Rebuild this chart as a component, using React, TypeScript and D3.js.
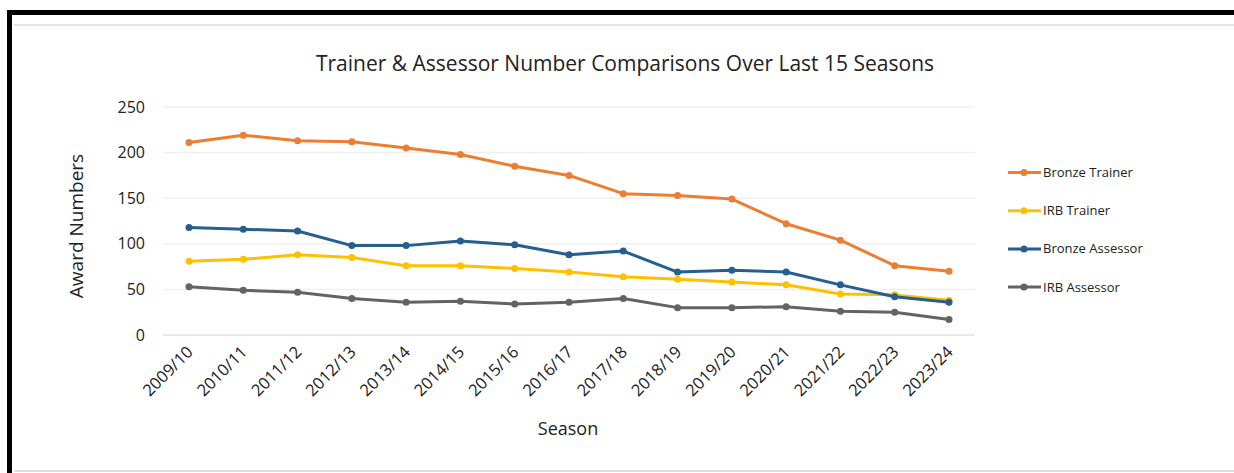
import React from "react";
import * as d3 from "d3";

const seasons = ["2009/10","2010/11","2011/12","2012/13","2013/14","2014/15","2015/16","2016/17","2017/18","2018/19","2019/20","2020/21","2021/22","2022/23","2023/24"];
const bronzeTrainer = [211,219,213,212,205,198,185,175,155,153,149,122,104,76,70];
const irbTrainer = [81,83,88,85,76,76,73,69,64,61,58,55,45,44,38];
const bronzeAssessor = [118,116,114,98,98,103,99,88,92,69,71,69,55,42,36];
const irbAssessor = [53,49,47,40,36,37,34,36,40,30,30,31,26,25,17];
const yTicks = [0,50,100,150,200,250];

const seriesList = [
  { name: "Bronze Trainer", values: bronzeTrainer, color: "#ED7D31" },
  { name: "IRB Trainer", values: irbTrainer, color: "#FFC000" },
  { name: "Bronze Assessor", values: bronzeAssessor, color: "#255E91" },
  { name: "IRB Assessor", values: irbAssessor, color: "#636363" },
];

const W = 1234, H = 473;
const FONT = "'Open Sans', Lato, sans-serif";

export default function App() {
  const x = d3.scalePoint<string>().domain(seasons).range([189, 949]);
  const y = d3.scaleLinear().domain([0, 250]).range([335, 107]);
  const line = d3.line<number>().x((_, i) => x(seasons[i]) as number).y((v) => y(v));
  const drawOrder = [3, 1, 2, 0];

  return (
    <svg width={W} height={H} style={{ position: "absolute", left: 0, top: 0, background: "#fff" }}>
      <rect x={0} y={0} width={W} height={H} fill="#fff" />
      {/* inner faint frame */}
      <line x1={14} x2={W} y1={25} y2={25} stroke="#e4e4e4" strokeWidth={2} />
      <line x1={14} x2={W} y1={471} y2={471} stroke="#dedede" strokeWidth={2} />
      {/* black border */}
      <line x1={7} x2={W} y1={12.5} y2={12.5} stroke="#000" strokeWidth={5} />
      <line x1={9.5} x2={9.5} y1={10} y2={H} stroke="#000" strokeWidth={5} />

      <text x={625} y={71} textAnchor="middle" fontFamily={FONT} fontSize={21} fill="#222">
        Trainer &amp; Assessor Number Comparisons Over Last 15 Seasons
      </text>

      {/* gridlines */}
      {yTicks.map((t) => (
        <line key={t} x1={163} x2={975} y1={y(t)} y2={y(t)} stroke={t === 0 ? "#e2e2e2" : "#f0f0f0"} strokeWidth={1.5} />
      ))}
      {yTicks.map((t) => (
        <text key={"l" + t} x={145} y={y(t)} dy="0.35em" textAnchor="end" fontFamily={FONT} fontSize={16} fill="#222">
          {t}
        </text>
      ))}
      <text transform={`translate(83,${226}) rotate(-90)`} textAnchor="middle" fontFamily={FONT} fontSize={19} fill="#222">
        Award Numbers
      </text>

      {seasons.map((s) => (
        <text key={s} transform={`translate(${(x(s) as number) + 5},${353}) rotate(-45)`} textAnchor="end" fontFamily={FONT} fontSize={16.5} fill="#222">
          {s}
        </text>
      ))}
      <text x={568} y={435} textAnchor="middle" fontFamily={FONT} fontSize={18} fill="#222">
        Season
      </text>

      {drawOrder.map((k) => {
        const s = seriesList[k];
        return (
          <g key={s.name}>
            <path d={line(s.values) || ""} fill="none" stroke={s.color} strokeWidth={3} strokeLinejoin="round" />
            {s.values.map((v, i) => (
              <circle key={i} cx={x(seasons[i]) as number} cy={y(v)} r={3.5} fill={s.color} />
            ))}
          </g>
        );
      })}

      {seriesList.map((s, i) => {
        const ly = 172.5 + i * 38.2;
        return (
          <g key={"lg" + s.name}>
            <line x1={1008} x2={1041} y1={ly} y2={ly} stroke={s.color} strokeWidth={3} />
            <circle cx={1024} cy={ly} r={3.5} fill={s.color} />
            <text x={1043} y={ly} dy="0.35em" fontFamily={FONT} fontSize={13} fill="#222">
              {s.name}
            </text>
          </g>
        );
      })}
    </svg>
  );
}
